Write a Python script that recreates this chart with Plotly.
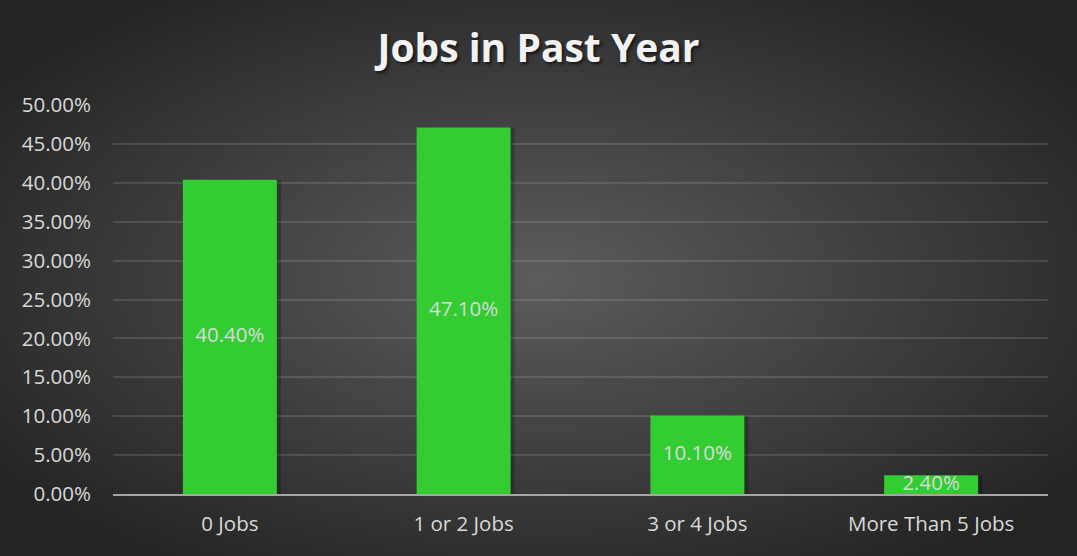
import plotly.graph_objects as go
import urllib.parse

categories = ["0 Jobs", "1 or 2 Jobs", "3 or 4 Jobs", "More Than 5 Jobs"]
values = [40.4, 47.1, 10.1, 2.4]
tick_vals = [0, 5, 10, 15, 20, 25, 30, 35, 40, 45, 50]
tick_text = ["0.00%", "5.00%", "10.00%", "15.00%", "20.00%", "25.00%",
             "30.00%", "35.00%", "40.00%", "45.00%", "50.00%"]
labels = [f"{v:.2f}%" for v in values]

W, H = 1077, 556
ML, MR, MT, MB = 113, 29, 105, 62
PW, PH = W - ML - MR, H - MT - MB

svg = f'''<svg xmlns="http://www.w3.org/2000/svg" width="{W}" height="{H}" viewBox="0 0 {W} {H}" preserveAspectRatio="none">
<defs><radialGradient id="g" cx="50%" cy="50%" r="62%" gradientUnits="objectBoundingBox">
<stop offset="0%" stop-color="#5c5c5c"/><stop offset="100%" stop-color="#242424"/></radialGradient></defs>
<rect width="{W}" height="{H}" fill="url(#g)"/></svg>'''
bg_src = "data:image/svg+xml;charset=utf-8," + urllib.parse.quote(svg)

bar_w = 0.402
shadow_dx = 4 / (PW / 4)

fig = go.Figure()
fig.add_trace(go.Bar(
    x=categories, y=values, width=bar_w, offset=-bar_w / 2 + shadow_dx,
    marker=dict(color="rgba(0,0,0,0.22)", line=dict(width=0)),
    hoverinfo="skip", showlegend=False,
))
fig.add_trace(go.Bar(
    x=categories, y=values, width=bar_w, offset=-bar_w / 2,
    marker=dict(color="#33CC33", line=dict(width=0)),
    showlegend=False,
))
fig.add_trace(go.Scatter(
    x=categories, y=[v / 2 for v in values], mode="text", text=labels,
    textfont=dict(family="Open Sans", size=20.5, color="#d9d9d9"),
    textposition="middle center", hoverinfo="skip", showlegend=False,
))

fig.update_layout(
    width=W, height=H,
    margin=dict(l=ML, r=MR, t=MT, b=MB),
    paper_bgcolor="#3a3a3a",
    plot_bgcolor="rgba(0,0,0,0)",
    barmode="overlay",
    title=dict(
        text="<b>Jobs in Past Year</b>",
        x=0.5, xanchor="center", xref="container",
        y=1 - 48 / H, yanchor="middle", yref="container",
        font=dict(family="Open Sans", size=39, color="#f2f2f2",
                  shadow="2px 2px 3px rgba(0,0,0,0.6)"),
    ),
    font=dict(family="Open Sans", size=20.5, color="#d9d9d9"),
    images=[dict(
        source=bg_src, xref="paper", yref="paper",
        x=-ML / PW, y=1 + MT / PH, sizex=W / PW, sizey=H / PH,
        xanchor="left", yanchor="top", sizing="stretch", layer="below",
    )],
    xaxis=dict(
        showgrid=False, showline=True, linecolor="#a6a6a6", linewidth=2,
        ticks="", ticklabelstandoff=10,
        tickfont=dict(family="Open Sans", size=20.5, color="#d9d9d9"),
        zeroline=False,
    ),
    yaxis=dict(
        range=[0, 50], tickvals=tick_vals, ticktext=tick_text,
        showgrid=True, gridcolor="rgba(255,255,255,0.12)", gridwidth=1.5,
        zeroline=False, showline=False, ticks="", ticklabelstandoff=21,
        tickfont=dict(family="Open Sans", size=20.5, color="#d9d9d9"),
    ),
)

fig.write_html(
    "out.html",
    config={"displayModeBar": False},
    post_script="document.body.style.margin='0';document.body.style.padding='0';",
)
